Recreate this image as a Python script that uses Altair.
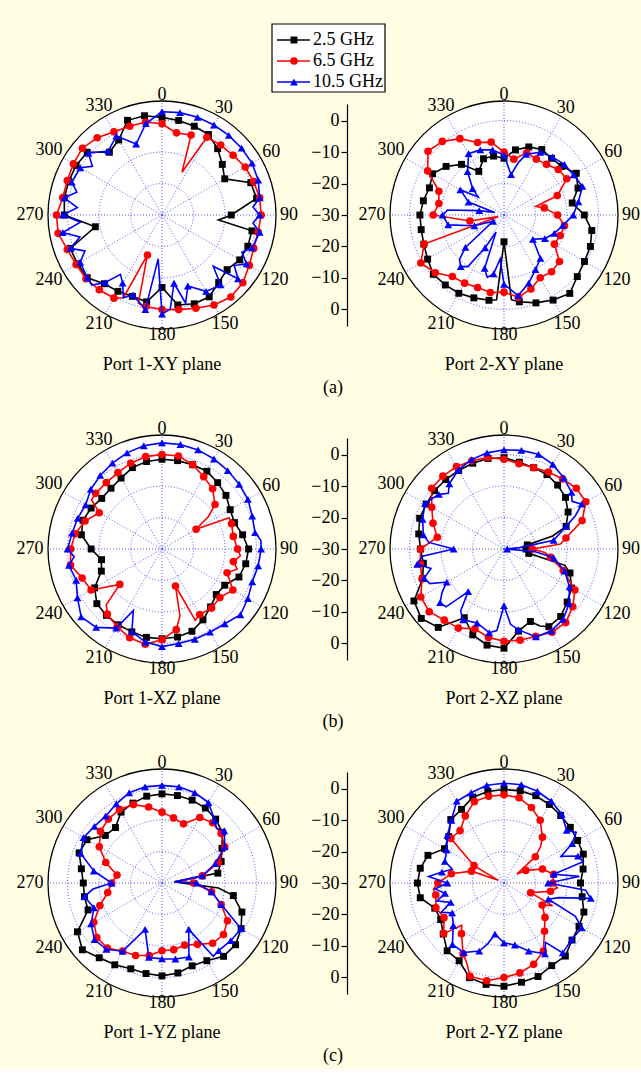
import altair as alt
import pandas as pd

FONT = "Liberation Serif"
BG = "#FFFDE2"
GRID_COLOR = "#5A5AFF"

FREQS = ["2.5 GHz", "6.5 GHz", "10.5 GHz"]
COLORS = ["#000000", "#FF0000", "#0000FF"]
SHAPES = ["square", "circle", "triangle-up"]
SIZES = [48, 58, 62]

ANGLE_TICKS = list(range(0, 360, 30))
GRID_LEVELS = [0, -10, -20, -29.4]
RADIAL_TICKS = [0, -10, -20, -30, -20, -10, 0]
FRAME_DB = 6.2
PANEL_TITLES = ["Port 1-XY plane", "Port 2-XY plane",
                "Port 1-XZ plane", "Port 2-XZ plane",
                "Port 1-YZ plane", "Port 2-YZ plane"]
LETTERS = ["(a)", "(b)", "(c)"]

# (angle in degrees, gain in dB)
P1XY_B = [(0,1),(10,0.5),(20,0),(30,-0.5),(40,-2.5),(50,-5),(60,-7),(70,0),(80,0.5),(90,-8),(95,-12),(100,-1),(110,-1),(120,-1.5),(130,-3),(140,-2),(150,0),(160,0),(170,-1),(180,-7),(190,-2),(200,-2.5),(210,-2),(220,-1.5),(230,1),(240,1),(250,1),(260,-8.5),(270,1),(280,1.5),(290,1.5),(300,1.5),(310,1),(320,-4),(330,-2.5),(340,2),(350,2)]
P1XY_R = [(0,-1),(5,-2.5),(10,-3.5),(20,-3),(25,-15),(30,-1.5),(40,-1),(50,-0.5),(60,0.5),(70,1),(80,1.5),(90,1.5),(100,1),(110,1),(120,2),(130,3.5),(140,4),(150,3),(160,1.5),(170,0.5),(180,0),(190,-0.5),(195,-1),(200,-16.5),(205,-1),(210,0.5),(220,1),(230,1.5),(240,1.5),(250,2),(260,3.5),(270,3.5),(280,2),(290,2),(300,2.5),(310,3),(320,2),(330,0.5),(340,0),(350,0)]
P1XY_U = [(0,2.8),(10,3),(20,3),(30,3),(40,3),(50,3),(60,3),(70,2.5),(80,1.5),(85,-1),(90,1),(95,-1),(100,1.5),(110,0.5),(115,-2),(120,1),(125,-2),(130,1.5),(135,-7),(140,-1),(150,-2),(160,-6),(165,-1),(170,-8),(175,0),(180,1.5),(185,-16),(190,0.5),(200,-3),(205,-1),(210,-5),(215,-7),(220,-2),(225,1.5),(230,1),(240,0),(245,-3),(250,1),(255,-3),(260,2),(265,-4),(270,1.5),(275,-3),(280,1.5),(285,-2),(290,0.5),(300,0),(305,-3),(310,0.5),(320,-3.5),(330,-1),(340,-6),(350,-0.5)]

P2XY_B = [(0,-12),(10,-9),(20,-7),(30,-6),(40,-6.5),(50,-6),(60,-3.5),(70,-5),(80,-8),(90,-4.5),(100,-1.7),(110,-0.8),(120,-0.5),(130,0.4),(140,2.5),(150,1.2),(160,-0.3),(170,-2),(175,-3),(180,-21.5),(185,-3),(190,-2.5),(200,-2),(210,-1.3),(220,-1),(230,-0.7),(240,-2),(250,-2.9),(260,-3.3),(270,-3.3),(280,-4),(290,-4.8),(300,-3.8),(310,-6),(320,-9),(330,-14),(340,-11),(350,-11)]
P2XY_R = [(0,-10),(10,-12),(20,-9),(30,-9.5),(40,-9),(50,-7.5),(60,-7),(70,-12),(75,-19.5),(80,-17),(90,-13),(100,-10.5),(110,-11),(120,-11.5),(130,-7),(140,-6.5),(150,-7),(160,-5),(170,-3.5),(180,-5.5),(190,-5),(200,-5.5),(210,-5),(220,-4.5),(230,-1.5),(240,0.5),(250,-3),(255,-28),(260,-19),(270,-7.5),(280,-9),(290,-8),(300,-2),(310,1.5),(320,0.5),(330,-2),(340,-5.5),(350,-6.5)]
P2XY_U = [(0,-11),(10,-17),(15,-13),(20,-9.5),(30,-7),(40,-6),(50,-5),(60,-4.5),(70,-3.5),(80,-6),(90,-8),(100,-11),(110,-13),(120,-15),(130,-18),(140,-12),(150,-10),(160,-7),(170,-4),(180,-8),(185,-16),(190,-11),(195,-9.5),(200,-12),(205,-24),(210,-18),(215,-10),(220,-8.6),(225,-10),(230,-14),(240,-26),(250,-20),(260,-12),(270,-10.5),(275,-12),(280,-22),(285,-27),(290,-18),(300,-14),(305,-20),(310,-17),(320,-12),(330,-7.5),(340,-8),(350,-9)]

P1XZ_B = [(0,-1.5),(10,-1.5),(20,-1.5),(30,-1.5),(40,-2.5),(50,-3.5),(60,-5),(70,-5.5),(80,-4),(90,-2.5),(100,-3),(110,-4),(120,-7),(130,-7.5),(140,-6),(150,-4),(160,-2.2),(170,-1.6),(180,-1.5),(190,-1.5),(200,-2),(210,-2.2),(220,-2.5),(230,-3),(240,-5.3),(250,-9.5),(260,-10.5),(270,-7.5),(280,-4),(290,-3.3),(300,-4),(310,-5),(320,-4.8),(330,-4),(340,-2.5),(350,-1.8)]
P1XZ_R = [(0,0),(10,0),(20,-1.5),(30,-3.5),(40,-5),(50,-8),(55,-12),(60,-17.5),(65,-6.5),(70,-6.5),(80,-7),(90,-6),(95,-5),(100,-7),(105,-5.3),(110,-8),(120,-4),(130,-6),(140,-5.5),(150,-6),(155,-5),(160,-17.5),(165,-8),(170,-4),(180,-1.2),(190,0.7),(200,0),(210,-1.5),(220,-3),(225,-5),(230,-12.5),(240,-4),(250,-3),(260,-0.5),(270,-1),(280,-2),(290,-4),(300,-7),(305,-2.7),(310,-2.5),(320,-2.5),(330,-2),(340,-1),(350,-0.2)]
P1XZ_U = [(0,3.7),(10,3.7),(20,3.5),(30,3),(40,2.5),(50,2),(60,1.5),(70,0.5),(80,0),(85,1.5),(90,1.5),(100,1),(110,0.5),(120,1.5),(130,2.5),(140,1),(150,0.5),(160,0.5),(170,0.5),(180,1),(190,0),(200,-2),(205,-8.5),(210,-1),(220,2.5),(230,3.5),(240,1),(250,-1),(260,0),(265,-2),(270,0),(280,-1),(290,-1.5),(300,-2),(310,-0.5),(320,0.5),(330,1.5),(340,2.5),(350,3.3)]

P2XZ_B = [(0,-1),(10,-2),(20,-2.5),(30,-2.7),(40,-3.5),(50,-4.5),(60,-6.5),(70,-9),(75,-14),(80,-22.5),(90,-23),(100,-22),(105,-10),(110,-7.7),(120,-5.2),(130,-3.8),(140,-2),(150,-1.5),(155,-3),(160,-5.5),(170,-3.5),(180,1.5),(190,1),(200,-1),(210,-4.8),(220,2.5),(230,4.3),(240,3),(250,-2.5),(260,-4),(270,-3.5),(280,-2.5),(290,-1.5),(300,-1.5),(310,-1.2),(320,-1.2),(330,-1.2),(340,-1),(350,-0.8)]
P2XZ_R = [(0,-1.5),(10,-2.5),(20,-2.5),(30,-1.8),(40,-1),(50,0),(60,0),(70,-3.6),(80,-10),(85,-12),(90,-21),(95,-17),(100,-15),(110,-10),(120,-4),(130,-1.5),(140,0.5),(150,0.5),(160,-0.5),(170,-0.6),(180,-0.7),(190,-1.5),(200,-3),(210,-1),(220,-0.5),(230,1),(240,0.5),(250,-2.3),(260,-3),(270,-3.5),(280,-8.5),(290,-6),(300,-3.5),(310,0),(320,0.2),(330,0.2),(340,-0.2),(350,-0.5)]
P2XZ_U = [(0,1.5),(10,1.8),(20,2),(30,1),(40,-0.5),(50,-2),(55,-3.6),(60,-1.5),(65,-5),(70,-9),(80,-14),(85,-25),(90,-29),(95,-20),(100,-14),(110,-9.5),(120,-6),(130,-3),(140,-0.8),(150,0),(160,-0.3),(170,-4),(175,-6),(180,-12),(185,-4),(190,-3),(200,-5),(210,-4),(215,-6),(220,-12.3),(225,-4),(230,-3.5),(235,-6),(240,-9),(245,-4),(250,-3),(255,-6),(260,-2),(265,-4),(270,-14),(275,-6),(280,-4),(290,-2.5),(300,-1),(310,-3),(315,-5),(320,-3),(330,-1),(340,0.2),(350,1)]

P1YZ_B = [(0,-1.7),(10,-1.8),(20,-2),(30,-2.5),(40,-3.5),(50,-5),(60,-8),(70,-10),(80,-12),(85,-26),(95,-12),(100,-7),(110,-3),(120,-1),(130,0.5),(140,0.4),(150,-1.5),(160,-2),(170,-1),(180,-0.5),(190,-0.8),(200,-1),(210,0),(220,1),(230,3),(240,1),(250,-5),(260,-5),(270,-5),(280,-4),(290,-2),(300,-2.5),(310,-6.5),(320,-7),(330,-4),(340,-3),(350,-2)]
P1YZ_R = [(0,-7.5),(10,-9),(20,-10),(30,-6),(40,-5),(50,-5.5),(60,-7),(70,-11),(80,-17),(85,-25),(90,-20),(100,-14),(110,-10),(120,-6),(130,-4.5),(140,-5),(150,-7.5),(160,-9),(170,-8.5),(180,-8.5),(190,-6.6),(200,-5.5),(210,-5),(220,-3),(230,-3),(240,-5),(250,-9),(260,-12.5),(270,-14),(280,-15.5),(290,-11),(300,-7),(310,-4.5),(320,-3.5),(330,-3),(340,-3.5),(350,-5.5)]
P1YZ_U = [(0,1),(10,1),(20,0.5),(30,-0.5),(40,-4),(45,-5.5),(50,-4.2),(60,-7),(70,-12),(80,-17),(85,-26),(90,-19),(95,-17),(100,-14),(110,-10),(120,-1),(130,-1.5),(140,-2),(145,-1.6),(150,-13),(160,-5),(170,-5.5),(180,-5.9),(190,-6),(200,-14.3),(210,-5),(220,-2.5),(230,-2),(240,-4),(250,-7),(260,-5),(265,-8),(270,-14),(280,-8),(290,-2.5),(300,-1.2),(310,-2),(320,-2.2),(330,-1),(340,0.5),(350,1)]

P2YZ_B = [(0,-0.3),(10,-0.3),(20,-0.5),(30,-1.2),(40,-2),(50,-2.5),(60,-3),(70,-3.2),(80,-4.5),(90,-5.7),(100,-4.8),(110,-3),(120,-2.5),(130,-1.8),(140,0.3),(150,0.3),(160,1.6),(170,2),(180,2.8),(190,2.7),(200,2),(210,-1.5),(220,-1.9),(230,-4.8),(240,-6.8),(250,-6.6),(260,-3),(270,-2.5),(280,-3),(290,-4.3),(300,-8.2),(310,-7.1),(320,-3.7),(330,-3),(340,-1),(350,-0.5)]
P2YZ_R = [(0,-2),(10,-2.5),(20,-4.5),(30,-7),(40,-11),(45,-13.5),(50,-17),(55,-25),(60,-22),(70,-17),(80,-14),(90,-14.5),(95,-13),(100,-15),(110,-21),(115,-13),(120,-16),(130,-13),(140,-10),(150,-5),(160,-2.5),(170,-1),(180,0),(190,1.5),(200,1.5),(205,-2),(210,-4),(220,-9),(225,-11),(230,-5),(240,-8),(250,-7),(260,-8),(265,-7.5),(270,-9),(280,-13),(290,-19),(295,-28),(300,-19),(310,-8),(320,-8.3),(330,-5.4),(340,-2.5),(350,-2)]
P2YZ_U = [(0,1.7),(10,1.7),(20,1),(30,0),(40,-1.5),(50,-4),(55,-2),(60,-5),(65,-10),(70,-5),(75,-4),(80,-14),(85,-6),(90,-16),(95,-4),(100,-2),(105,-12),(110,-15),(115,-5),(120,-1.5),(130,-2),(140,-1),(145,-7),(150,-4),(160,-7),(170,-10),(180,-11),(190,-13.5),(195,-10),(200,-7),(210,-4.5),(220,-4.5),(230,-9),(240,-11),(245,-8),(250,-12),(255,-8),(260,-11),(265,-8),(270,-12),(275,-6),(280,-10),(285,-13),(290,-10),(300,-9),(310,-6.5),(320,-4),(330,0),(340,0.5),(350,1.5)]

PANEL_CURVES = [
    (P1XY_B, P1XY_R, P1XY_U), (P2XY_B, P2XY_R, P2XY_U),
    (P1XZ_B, P1XZ_R, P1XZ_U), (P2XZ_B, P2XZ_R, P2XZ_U),
    (P1YZ_B, P1YZ_R, P1YZ_U), (P2YZ_B, P2YZ_R, P2YZ_U),
]

# ---- geometry (pixels) ----
H = 222            # plot height of each polar panel
YD = 1.175         # half-range of y scale in radius units (0 dB = 1)
K = H / (2 * YD)   # pixels per radius unit
LEFT_W = 324
RIGHT_W = 294
RIGHT_CX = 157     # center of right polar panel from its left edge
ROW_TOP = 103
FRAME_R = (FRAME_DB + 30) / 30

R_EXPR = "max(0, (datum.db + 30) / 30)"
color_scale = alt.Scale(domain=FREQS, range=COLORS)
shape_scale = alt.Scale(domain=FREQS, range=SHAPES)


def curve_frame(freq, pts):
    seq = list(pts) + [(pts[0][0] + 360, pts[0][1])]
    return pd.DataFrame({
        "freq": [freq] * len(seq),
        "ang": [a for a, _ in seq],
        "db": [v for _, v in seq],
        "ord": list(range(len(seq))),
        "mk": [(a % 10 == 0) and a < 360 for a, _ in seq],
    })


def polar_panel(idx):
    is_right = idx % 2 == 1
    width = RIGHT_W if is_right else LEFT_W
    if is_right:
        xdom = [-RIGHT_CX / K, (RIGHT_W - RIGHT_CX) / K]
    else:
        xdom = [-LEFT_W / 2 / K, LEFT_W / 2 / K]
    xs = alt.Scale(domain=xdom, nice=False, zero=False)
    ys = alt.Scale(domain=[-YD, YD], nice=False, zero=False)
    if is_right:
        tick_vals = [(t + 30) / 30 * (1 if i < 3 else -1) for i, t in enumerate(RADIAL_TICKS)]
        yaxis = alt.Axis(
            values=tick_vals,
            labelExpr="abs(datum.value) > 0.99 ? '0' : '\u2212' + format(30 - 30 * abs(datum.value), 'd')",
            labelFont=FONT, labelFontSize=18, labelColor="black",
            tickColor="black", domainColor="black", tickSize=6,
            tickWidth=1.2, domainWidth=1.2, labelPadding=2, grid=False,
            labelOverlap=False, labelFlush=False, labelBound=False,
        )
    else:
        yaxis = None

    def X(f):
        return alt.X(f, type="quantitative", scale=xs, axis=None, title=None)

    def Y(f):
        return alt.Y(f, type="quantitative", scale=ys, axis=yaxis, title=None)

    layers = []
    disk = alt.Chart(pd.DataFrame({"cx": [0.0], "cy": [0.0]})).mark_point(
        shape="circle", size=(2 * FRAME_R * K) ** 2, filled=True, fill="white",
        stroke="black", strokeWidth=1.3, opacity=1,
    ).encode(x=X("cx"), y=Y("cy"))
    layers.append(disk)

    grid_df = pd.DataFrame([{"lvl": l, "ang": a} for l in GRID_LEVELS for a in range(0, 361, 3)])
    grid = alt.Chart(grid_df).transform_calculate(
        gr="max(0, (datum.lvl + 30) / 30)",
        gx="datum.gr * sin(datum.ang * PI / 180)",
        gy="datum.gr * cos(datum.ang * PI / 180)",
    ).mark_line(color=GRID_COLOR, strokeWidth=1, strokeDash=[1, 2]).encode(
        x=X("gx"), y=Y("gy"), detail="lvl:N", order="ang:Q")
    layers.append(grid)

    spokes = alt.Chart(pd.DataFrame({"ang": ANGLE_TICKS})).transform_calculate(
        sx="0", sy="0",
        ex=f"{FRAME_R} * sin(datum.ang * PI / 180)",
        ey=f"{FRAME_R} * cos(datum.ang * PI / 180)",
    ).mark_rule(color=GRID_COLOR, strokeWidth=1, strokeDash=[1, 2]).encode(
        x=X("sx"), y=Y("sy"), x2="ex:Q", y2="ey:Q")
    layers.append(spokes)

    for f, pts in enumerate(PANEL_CURVES[idx]):
        df = curve_frame(FREQS[f], pts)
        base = alt.Chart(df).transform_calculate(
            r=R_EXPR,
            px="datum.r * sin(datum.ang * PI / 180)",
            py="datum.r * cos(datum.ang * PI / 180)",
        )
        line = base.mark_line(strokeWidth=1.6).encode(
            x=X("px"), y=Y("py"), order="ord:Q",
            color=alt.Color("freq:N", scale=color_scale, legend=None))
        pts_layer = base.transform_filter("datum.mk").mark_point(
            filled=True, size=SIZES[f], opacity=1).encode(
            x=X("px"), y=Y("py"),
            color=alt.Color("freq:N", scale=color_scale, legend=None),
            shape=alt.Shape("freq:N", scale=shape_scale, legend=None))
        layers += [line, pts_layer]

    lab_df = pd.DataFrame({"ang": ANGLE_TICKS, "lab": [str(a) for a in ANGLE_TICKS]})
    labels = alt.Chart(lab_df).transform_calculate(
        lr=f"(120 + (length(datum.lab) > 2 ? 12 : 7) * abs(sin(datum.ang * PI / 180))) / {K}",
        lx="datum.lr * sin(datum.ang * PI / 180)",
        ly="datum.lr * cos(datum.ang * PI / 180)",
    ).mark_text(font=FONT, fontSize=18, color="black", align="center", baseline="middle").encode(
        x=X("lx"), y=Y("ly"), text="lab:N")
    layers.append(labels)

    title = alt.Chart(pd.DataFrame({"cx": [0.0], "t": [PANEL_TITLES[idx]]})).mark_text(
        font=FONT, fontSize=18, color="black", align="center", baseline="middle").encode(
        x=X("cx"), y=alt.value(H + 39), text="t:N")
    layers.append(title)

    if not is_right:
        letter = alt.Chart(pd.DataFrame({"t": [LETTERS[idx // 2]]})).mark_text(
            font=FONT, fontSize=18, color="black", align="center", baseline="middle").encode(
            x=alt.value(333), y=alt.value(H + 62), text="t:N")
        layers.append(letter)

    if idx == 0:
        one = pd.DataFrame({"a": [0]})
        box = alt.Chart(one).mark_rect(fill="white", stroke="black", strokeWidth=1.2).encode(
            x=alt.value(272), x2=alt.value(385),
            y=alt.value(23 - ROW_TOP), y2=alt.value(91 - ROW_TOP))
        layers.append(box)
        for i, fr in enumerate(FREQS):
            ypx = [39, 60, 81][i] - ROW_TOP
            d = pd.DataFrame({"freq": [fr]})
            layers.append(alt.Chart(d).mark_rule(strokeWidth=1.6).encode(
                x=alt.value(277), x2=alt.value(310), y=alt.value(ypx),
                color=alt.Color("freq:N", scale=color_scale, legend=None)))
            layers.append(alt.Chart(d).mark_point(filled=True, size=SIZES[i], opacity=1).encode(
                x=alt.value(294), y=alt.value(ypx),
                color=alt.Color("freq:N", scale=color_scale, legend=None),
                shape=alt.Shape("freq:N", scale=shape_scale, legend=None)))
            layers.append(alt.Chart(d).mark_text(font=FONT, fontSize=18, color="black",
                                                 align="left", baseline="middle").encode(
                x=alt.value(313), y=alt.value(ypx), text="freq:N"))

    return alt.layer(*layers).properties(width=width, height=H)


panels = [polar_panel(i) for i in range(6)]

chart = alt.concat(
    *panels, columns=2, spacing={"row": 112, "column": 23}, bounds="flush"
).properties(
    background=BG,
    padding={"top": 23, "left": 0, "right": 0, "bottom": 4},
).configure_view(strokeWidth=0)

chart.save("out.html", embed_options={"renderer": "svg", "actions": False})
